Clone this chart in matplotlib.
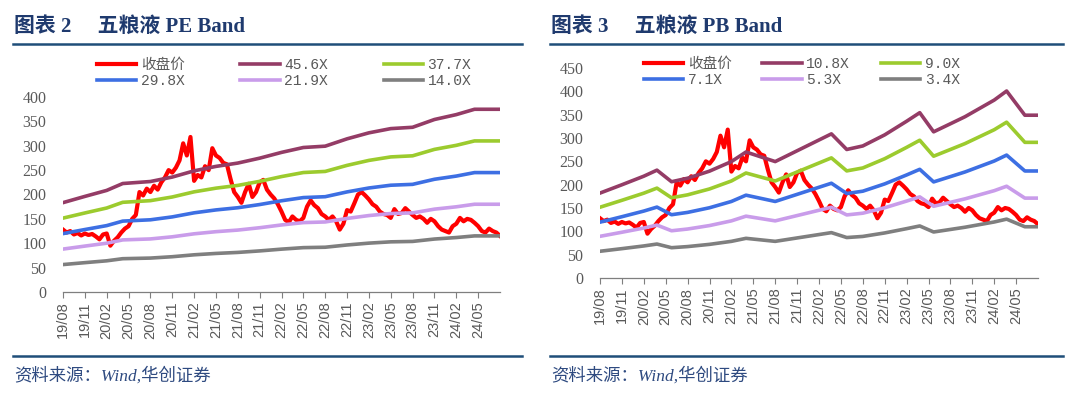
import numpy as np
import matplotlib.pyplot as plt
from matplotlib.lines import Line2D

# time axis in months since 2019-08, half-month steps
t_price = np.arange(0, 60.5, 0.5)
price = [128, 122, 125, 118, 121, 116, 120, 117, 119, 114,
         108, 118, 120, 95, 105, 112, 122, 130, 135, 150,
         158, 205, 198, 212, 205, 218, 210, 225, 235, 250,
         245, 255, 270, 305, 280, 318, 228, 240, 235, 258,
         250, 295, 280, 275, 265, 262, 232, 205, 195, 183,
         205, 222, 195, 205, 225, 230, 210, 200, 192, 180,
         165, 148, 143, 155, 148, 145, 152, 175, 188, 178,
         172, 160, 155, 148, 155, 145, 128, 140, 168, 165,
         182, 200, 205, 198, 190, 180, 175, 165, 160, 158,
         152, 170, 160, 162, 172, 165, 158, 152, 155, 150,
         142, 150, 145, 135, 128, 125, 122, 135, 140, 152,
         145, 150, 148, 142, 135, 125, 122, 130, 125, 122,
         115]

# PE band: trailing EPS
pe_t = [0, 3, 6, 8.2, 12, 15, 18, 21, 24, 27, 30, 33, 36, 39, 42, 45, 48, 51, 54, 56.5, 60]
eps = [4.02, 4.30, 4.57, 4.88, 4.97, 5.17, 5.45, 5.65, 5.80, 6.02, 6.28, 6.50, 6.56,
       6.89, 7.16, 7.35, 7.41, 7.76, 7.98, 8.22, 8.22]
pe_mult = [45.6, 37.7, 29.8, 21.9, 14.0]

# PB band: BPS
pb_t = [0, 3, 6, 7.8, 9.8, 12, 15, 18, 20, 24, 31.7, 33.8, 36, 39, 42, 43.8, 45.7,
        48, 50, 54, 55.7, 58.2, 60]
bps = [16.85, 18.5, 20.2, 21.4, 19.1, 19.8, 21.2, 23.1, 25.0, 23.1, 28.6, 25.5, 26.2,
       28.4, 31.1, 32.8, 29.0, 30.6, 32.0, 35.3, 37.1, 32.3, 32.3]
pb_mult = [10.8, 9.0, 7.1, 5.3, 3.4]

tick_pos = list(range(0, 58, 3))
tick_labels = ['19/08', '19/11', '20/02', '20/05', '20/08', '20/11', '21/02', '21/05',
               '21/08', '21/11', '22/02', '22/05', '22/08', '22/11', '23/02', '23/05',
               '23/08', '23/11', '24/02', '24/05']

band_colors = ['#943c66', '#9ccb2e', '#3d6fe3', '#c99cea', '#7f7f7f']
red = '#ff0000'
navy = '#1f3a6e'
gray = '#595959'

W, H = 1080, 399
fig = plt.figure(figsize=(10.8, 3.99), dpi=100)


def fx(px):
    return px / W


def fy(py):
    return 1 - py / H


ax1 = fig.add_axes([fx(63), fy(292), fx(500) - fx(63), fy(97) - fy(292)])
ax2 = fig.add_axes([fx(600), fy(278), fx(1038) - fx(600), fy(68) - fy(278)])

panels = [
    (ax1, pe_t, eps, pe_mult, 400, '图表 2     五粮液 PE Band', 13, 522, 97, 58),
    (ax2, pb_t, bps, pb_mult, 450, '图表 3     五粮液 PB Band', 550, 1063, 644, 57),
]

for ax, bt, base, mults, ymax, title, x0, x1, lx, ly in panels:
    handles = []
    h, = ax.plot(t_price, price, color=red, lw=3.0, label='收盘价')
    handles.append(h)
    for m, c in zip(mults, band_colors):
        h, = ax.plot(bt, np.array(base) * m, color=c, lw=2.6, label=f'{m:.1f}X')
        handles.append(h)

    ax.set_xlim(0, 60)
    ax.set_ylim(0, ymax)
    ax.set_yticks(range(0, ymax + 1, 50))
    for s in ['top', 'right', 'left']:
        ax.spines[s].set_visible(False)
    ax.spines['bottom'].set_color('#7f7f7f')
    ax.spines['bottom'].set_linewidth(0.9)
    ax.set_xticks(tick_pos)
    ax.set_xticklabels(tick_labels, rotation=90, fontfamily='Liberation Sans',
                       fontsize=10.5, color=gray)
    ax.tick_params(axis='x', length=4, color='#7f7f7f', pad=3)
    ax.tick_params(axis='y', length=0, pad=12)
    for lab in ax.get_yticklabels():
        lab.set_fontfamily('Liberation Serif')
        lab.set_fontsize(11.5)
        lab.set_color(gray)

    # legend, column-major order to get the two rows
    order = [0, 3, 1, 4, 2, 5]
    pitch = 143.5 if ax is ax1 else 118.5
    cs = (pitch - 87.6) / 14.6
    leg = fig.legend([handles[i] for i in order], [handles[i].get_label() for i in order],
                     ncol=3, loc='upper left', bbox_to_anchor=(fx(lx), fy(ly)),
                     frameon=False, handlelength=2.7, handletextpad=0.3,
                     columnspacing=cs, labelspacing=0.12, borderpad=0, borderaxespad=0,
                     prop={'family': ['Liberation Mono', 'Noto Sans CJK SC'], 'size': 10.5})
    for tx in leg.get_texts():
        tx.set_color(gray)

    fig.text(fx(x0 + 1), fy(27), title, va='center', ha='left', fontsize=15,
             fontweight='bold', color=navy, family=['Liberation Serif', 'Noto Sans CJK SC'])
    fig.add_artist(Line2D([fx(x0), fx(x1)], [fy(44), fy(44)], color='#1f4e79', lw=1.8))
    fig.add_artist(Line2D([fx(x0), fx(x1)], [fy(356), fy(356)], color='#1f4e79', lw=1.8))
    fig.text(fx(x0 + 1), fy(376), '资料来源：Wind,华创证券', va='center', ha='left',
             fontsize=12.5, style='italic', color='#2e4a80',
             family=['Liberation Serif', 'Noto Sans CJK SC'])

fig.savefig('out.png', dpi=100)
